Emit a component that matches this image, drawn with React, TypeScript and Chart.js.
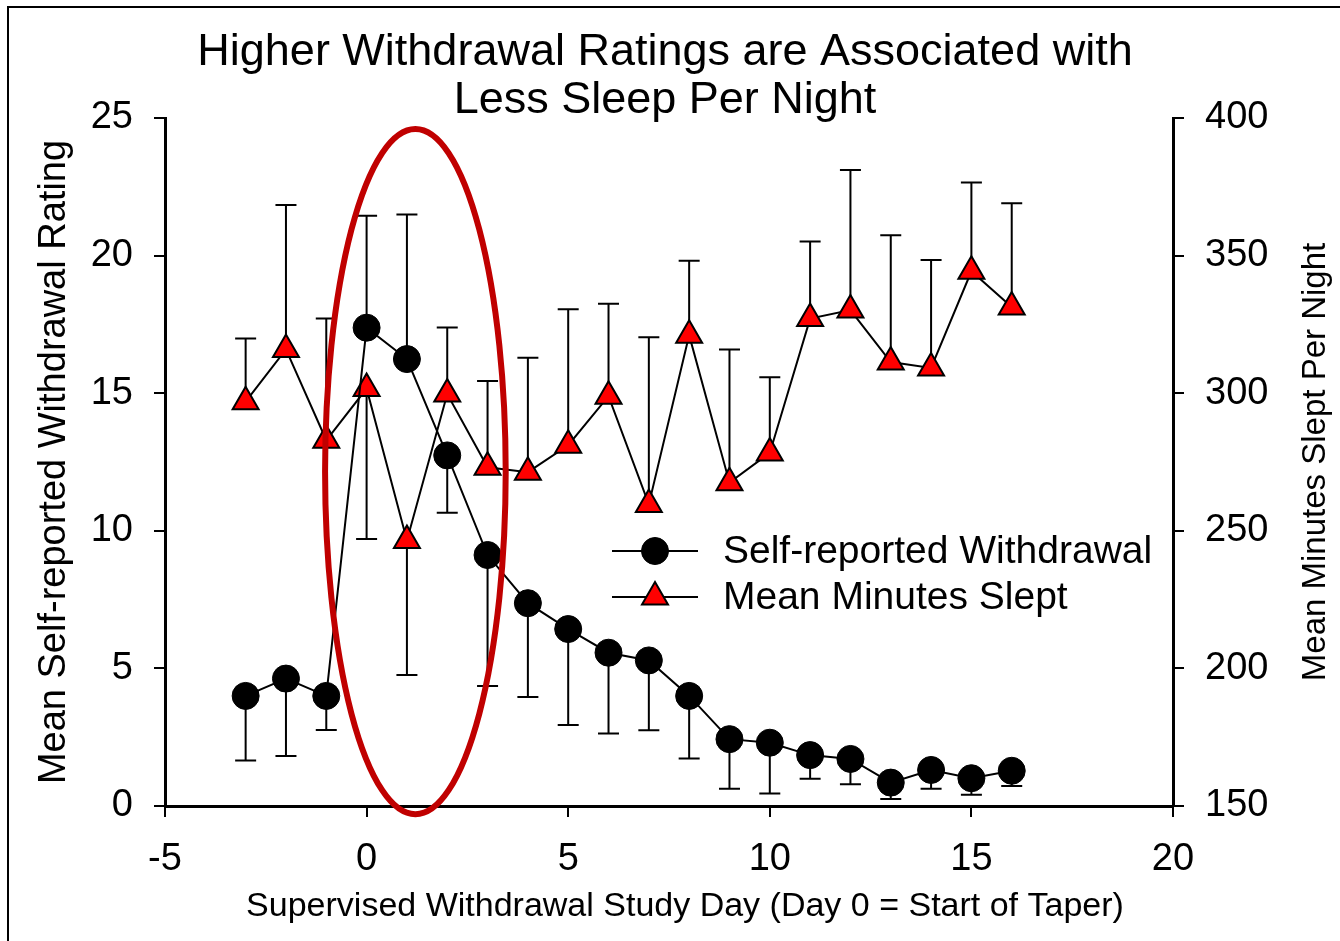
import { useEffect, useRef } from "react";
import { Chart, registerables } from "chart.js";

Chart.register(...registerables);

// Study days and per-day means
const days = [-3, -2, -1, 0, 1, 2, 3, 4, 5, 6, 7, 8, 9, 10, 11, 12, 13, 14, 15, 16];
const withdrawalMean = [4.0, 4.63, 4.0, 17.38, 16.24, 12.74, 9.12, 7.37, 6.43, 5.57, 5.29, 4.0, 2.43, 2.3, 1.85, 1.71, 0.85, 1.31, 1.01, 1.28];
// End value of each one-sided error bar (drawn from the mean to this value)
const withdrawalErrEnd = [1.65, 1.82, 2.76, 21.45, 21.49, 10.66, 4.36, 3.96, 2.94, 2.63, 2.75, 1.73, 0.63, 0.45, 0.99, 0.79, 0.25, 0.63, 0.41, 0.73];
const sleptMean = [296.9, 315.9, 282.9, 301.7, 246.5, 299.7, 273.1, 271.3, 281.1, 298.9, 259.6, 321.1, 267.5, 278.3, 327.1, 330.2, 311.3, 309.2, 344.3, 331.3];
const sleptErrEnd = [319.9, 368.4, 327.1, 247.0, 197.6, 323.9, 304.4, 312.9, 330.5, 332.5, 320.3, 348.1, 315.9, 305.8, 355.1, 381.1, 357.4, 348.4, 376.6, 369.0];

// Axis ticks
const xTicks = [-5, 0, 5, 10, 15, 20];
const ratingTicks = [0, 5, 10, 15, 20, 25];
const minutesTicks = [150, 200, 250, 300, 350, 400];

// Highlighted taper window (in day / rating units)
const highlightCenterDay = 1.21;
const highlightCenterRating = 12.15;
const highlightHalfDays = 2.24;
const highlightHalfRating = 12.45;

const titleLines = ["Higher Withdrawal Ratings are Associated with", "Less Sleep Per Night"];
const xTitle = "Supervised Withdrawal Study Day (Day 0 = Start of Taper)";
const leftTitle = "Mean Self-reported Withdrawal Rating";
const rightTitle = "Mean Minutes Slept Per Night";
const seriesNames = ["Self-reported Withdrawal", "Mean Minutes Slept"];

const FONT = "'Liberation Sans', Arial, Helvetica, sans-serif";

function drawMarker(ctx: CanvasRenderingContext2D, style: string, x: number, y: number, r: number, fill: string, stroke: string, lw: number) {
  ctx.beginPath();
  if (style === "triangle") {
    let rad = 0;
    ctx.moveTo(x + Math.sin(rad) * r, y - Math.cos(rad) * r);
    rad += (2 * Math.PI) / 3;
    ctx.lineTo(x + Math.sin(rad) * r, y - Math.cos(rad) * r);
    rad += (2 * Math.PI) / 3;
    ctx.lineTo(x + Math.sin(rad) * r, y - Math.cos(rad) * r);
    ctx.closePath();
  } else {
    ctx.arc(x, y, r, 0, Math.PI * 2);
  }
  ctx.fillStyle = fill;
  ctx.fill();
  ctx.lineWidth = lw;
  ctx.strokeStyle = stroke;
  ctx.stroke();
}

const framePlugin = {
  id: "frame",
  beforeDraw(chart: any) {
    const ctx = chart.ctx;
    ctx.save();
    ctx.fillStyle = "#fff";
    ctx.fillRect(0, 0, chart.width, chart.height);
    ctx.fillStyle = "#000";
    ctx.fillRect(7, 6, 2, chart.height - 6);
    ctx.fillRect(7, 6, chart.width - 7, 2);
    ctx.restore();
  },
};

const errorBarPlugin = {
  id: "errorBars",
  beforeDatasetsDraw(chart: any) {
    const ctx = chart.ctx;
    ctx.save();
    ctx.strokeStyle = "#000";
    ctx.lineWidth = 2;
    chart.data.datasets.forEach((ds: any, i: number) => {
      const meta = chart.getDatasetMeta(i);
      const yScale = chart.scales[ds.yAxisID];
      meta.data.forEach((pt: any, j: number) => {
        const yEnd = yScale.getPixelForValue(ds.errEnd[j]);
        ctx.beginPath();
        ctx.moveTo(pt.x, pt.y);
        ctx.lineTo(pt.x, yEnd);
        ctx.moveTo(pt.x - 10.5, yEnd);
        ctx.lineTo(pt.x + 10.5, yEnd);
        ctx.stroke();
      });
    });
    ctx.restore();
  },
};

const highlightPlugin = {
  id: "highlight",
  afterDatasetsDraw(chart: any) {
    const { ctx, scales } = chart;
    const cx = scales.x.getPixelForValue(highlightCenterDay);
    const cy = scales.y.getPixelForValue(highlightCenterRating);
    const rx = scales.x.getPixelForValue(highlightCenterDay + highlightHalfDays) - cx;
    const ry = cy - scales.y.getPixelForValue(highlightCenterRating + highlightHalfRating);
    ctx.save();
    ctx.beginPath();
    ctx.ellipse(cx, cy, rx, ry, 0, 0, Math.PI * 2);
    ctx.strokeStyle = "#C00000";
    ctx.lineWidth = 6;
    ctx.stroke();
    ctx.restore();
  },
};

const legendPlugin = {
  id: "seriesKey",
  afterDraw(chart: any) {
    const ctx = chart.ctx;
    const rows = [551, 597];
    ctx.save();
    chart.data.datasets.forEach((ds: any, i: number) => {
      const y = rows[i];
      ctx.beginPath();
      ctx.moveTo(612, y);
      ctx.lineTo(698, y);
      ctx.strokeStyle = "#000";
      ctx.lineWidth = 2;
      ctx.stroke();
      drawMarker(ctx, ds.pointStyle, 655, y, ds.pointRadius, ds.pointBackgroundColor, ds.pointBorderColor, ds.pointBorderWidth);
      ctx.fillStyle = "#000";
      ctx.font = `39px ${FONT}`;
      ctx.textAlign = "left";
      ctx.textBaseline = "middle";
      ctx.fillText(ds.label, 723, y + 1);
    });
    ctx.restore();
  },
};

const textPlugin = {
  id: "chartTexts",
  afterDraw(chart: any) {
    const ctx = chart.ctx;
    const area = chart.chartArea;
    ctx.save();
    ctx.fillStyle = "#000";
    ctx.textAlign = "center";
    ctx.textBaseline = "middle";
    ctx.font = `45px ${FONT}`;
    ctx.fillText(titleLines[0], 665, 53);
    ctx.fillText(titleLines[1], 665, 101);

    ctx.font = `34px ${FONT}`;
    ctx.fillText(xTitle, 685, 907);

    ctx.save();
    ctx.translate(55, (area.top + area.bottom) / 2);
    ctx.rotate(-Math.PI / 2);
    ctx.font = `38px ${FONT}`;
    ctx.fillText(leftTitle, 0, 0);
    ctx.restore();

    ctx.save();
    ctx.translate(1316, 462);
    ctx.rotate(-Math.PI / 2);
    ctx.font = `33px ${FONT}`;
    ctx.fillText(rightTitle, 0, 0);
    ctx.restore();
    ctx.restore();
  },
};

const tickFont = { family: FONT, size: 38 };
const axisGrid = { drawOnChartArea: false, drawTicks: true, tickLength: 11, color: "#000", lineWidth: 2 };
const axisBorder = { display: true, color: "#000", width: 3 };

export default function App() {
  const ref = useRef<HTMLCanvasElement>(null);

  useEffect(() => {
    const canvas = ref.current;
    if (!canvas) return;
    const chart = new Chart(canvas, {
      type: "line",
      data: {
        datasets: [
          {
            label: seriesNames[0],
            data: days.map((d, i) => ({ x: d, y: withdrawalMean[i] })),
            yAxisID: "y",
            borderColor: "#000",
            borderWidth: 2,
            pointStyle: "circle",
            pointRadius: 13.5,
            pointBackgroundColor: "#000",
            pointBorderColor: "#000",
            pointBorderWidth: 1,
            errEnd: withdrawalErrEnd,
          } as any,
          {
            label: seriesNames[1],
            data: days.map((d, i) => ({ x: d, y: sleptMean[i] })),
            yAxisID: "y1",
            borderColor: "#000",
            borderWidth: 2,
            pointStyle: "triangle",
            pointRadius: 15,
            pointBackgroundColor: "#FF0000",
            pointBorderColor: "#000",
            pointBorderWidth: 2,
            errEnd: sleptErrEnd,
          } as any,
        ],
      },
      options: {
        responsive: false,
        animation: false,
        devicePixelRatio: 1,
        layout: { padding: { top: 118, left: 0, right: 0, bottom: 0 } },
        plugins: { legend: { display: false }, tooltip: { enabled: false }, title: { display: false } },
        scales: {
          x: {
            type: "linear",
            min: -5,
            max: 20,
            afterBuildTicks: (s: any) => {
              s.ticks = xTicks.map((v) => ({ value: v }));
            },
            afterFit: (s: any) => {
              s.height = 135;
            },
            ticks: { font: tickFont, color: "#000", padding: 20, maxRotation: 0, autoSkip: false },
            grid: axisGrid,
            border: axisBorder,
          },
          y: {
            type: "linear",
            position: "left",
            min: 0,
            max: 25,
            afterBuildTicks: (s: any) => {
              s.ticks = ratingTicks.map((v) => ({ value: v }));
            },
            afterFit: (s: any) => {
              s.width = 165;
            },
            ticks: { font: tickFont, color: "#000", padding: 21, autoSkip: false },
            grid: axisGrid,
            border: axisBorder,
          },
          y1: {
            type: "linear",
            position: "right",
            min: 150,
            max: 400,
            afterBuildTicks: (s: any) => {
              s.ticks = minutesTicks.map((v) => ({ value: v }));
            },
            afterFit: (s: any) => {
              s.width = 167;
            },
            ticks: { font: tickFont, color: "#000", padding: 21, autoSkip: false },
            grid: axisGrid,
            border: axisBorder,
          },
        },
      } as any,
      plugins: [framePlugin, errorBarPlugin, highlightPlugin, legendPlugin, textPlugin],
    });
    return () => chart.destroy();
  }, []);

  return (
    <div style={{ position: "absolute", left: 0, top: 0, width: 1340, height: 941 }}>
      <canvas ref={ref} width={1340} height={941} style={{ display: "block", width: 1340, height: 941 }} />
    </div>
  );
}
